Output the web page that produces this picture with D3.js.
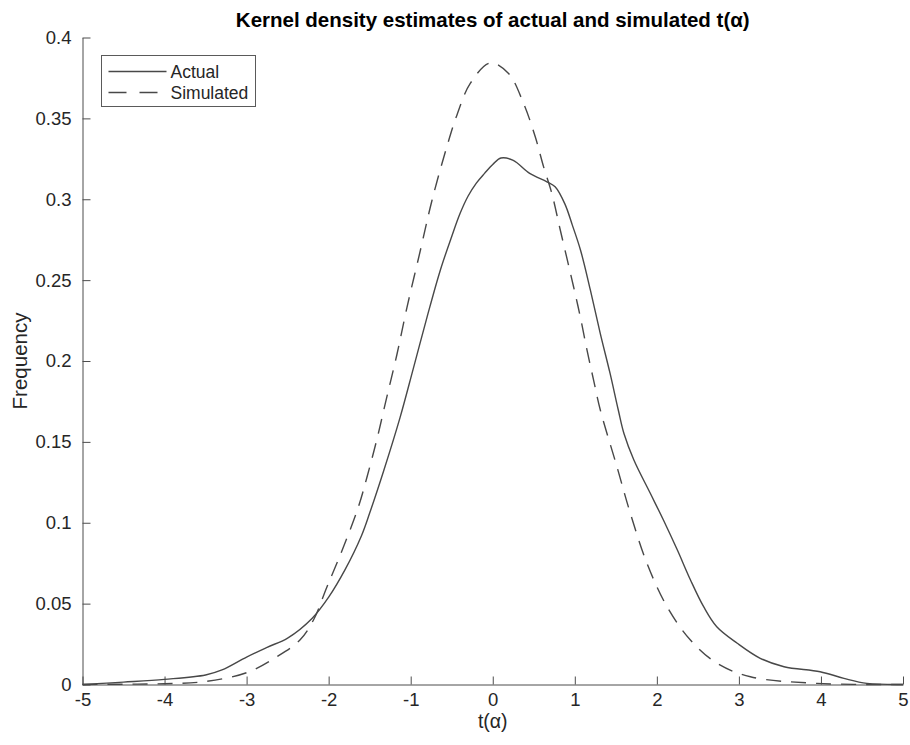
<!DOCTYPE html>
<html>
<head>
<meta charset="utf-8">
<script src="https://cdn.jsdelivr.net/npm/d3@7"></script>
<style>
  body { margin: 0; background: #fff; }
  text { font-family: "Liberation Sans", Arial, sans-serif; }
</style>
</head>
<body>
<div id="chart"></div>
<script>
// values
var actualT = [-5, -4.5, -4, -3.5, -3.3, -3, -2.75, -2.5, -2.2, -2, -1.8, -1.6, -1.5, -1.33, -1.13, -0.97,
  -0.8, -0.64, -0.5, -0.4, -0.3, -0.2, -0.1, 0, 0.1, 0.25, 0.45, 0.66, 0.76, 0.88, 0.97, 1.07, 1.19, 1.31, 1.43,
  1.53, 1.6, 1.72, 1.92, 2.08, 2.25, 2.41, 2.57, 2.73, 2.98, 3.26, 3.55, 3.99, 4.28, 4.56, 5];
var actualV = [0, 0.0015, 0.0032, 0.0059, 0.009, 0.017, 0.023, 0.0287, 0.041, 0.054, 0.071, 0.092, 0.106,
  0.132, 0.165, 0.195, 0.2273, 0.256, 0.277, 0.291, 0.302, 0.310, 0.316, 0.3215, 0.3255, 0.324, 0.316, 0.3108,
  0.3077, 0.297, 0.284, 0.2685, 0.2438, 0.2171, 0.1923, 0.1697, 0.155, 0.1388, 0.1182, 0.1017, 0.0831,
  0.0646, 0.0481, 0.0357, 0.0255, 0.0162, 0.011, 0.0079, 0.0038, 0.0007, 0];

var simT = [-5, -4.5, -4, -3.53, -3, -2.63, -2.35, -2.185, -2.02, -1.82, -1.636, -1.534, -1.41, -1.29,
  -1.168, -1.046, -0.884, -0.74, -0.56, -0.437, -0.274, -0.03, 0.193, 0.376, 0.518, 0.62, 0.72, 0.823,
  0.985, 1.067, 1.149, 1.229, 1.311, 1.514, 1.677, 1.88, 2.124, 2.409, 2.734, 3.14, 3.95, 5];
var simV = [0, 0.0002, 0.0005, 0.0017, 0.0073, 0.0172, 0.0275, 0.0399, 0.0604, 0.085, 0.11, 0.128,
  0.152, 0.178, 0.204, 0.233, 0.268, 0.2994, 0.3324, 0.352, 0.3716, 0.3843, 0.3777, 0.3592, 0.3386,
  0.32, 0.3036, 0.281, 0.2459, 0.2273, 0.2067, 0.1882, 0.1697, 0.1346, 0.1058, 0.0749, 0.0481, 0.0275,
  0.0131, 0.0048, 0.0007, 0];

var xTicks = [-5, -4, -3, -2, -1, 0, 1, 2, 3, 4, 5];
var yTicks = [0, 0.05, 0.1, 0.15, 0.2, 0.25, 0.3, 0.35, 0.4];
var seriesNames = ["Actual", "Simulated"];

var margin = {top: 37.5, right: 7, bottom: 60.5, left: 82.5},
  width = 910 - margin.left - margin.right,
  height = 745 - margin.top - margin.bottom;

var svg = d3.select("#chart")
  .append("svg")
    .attr("width", 910)
    .attr("height", 745);

var graph = svg.append("g")
  .attr("transform", "translate(" + margin.left + "," + margin.top + ")");

var x = d3.scaleLinear().domain([-5, 5]).range([0, width]);
var y = d3.scaleLinear().domain([0, 0.4]).range([height, 0]);

// axes, ticks pointing inward like matlab
var xAxis = graph.append("g")
  .attr("transform", "translate(0," + height + ")")
  .call(d3.axisBottom(x).tickValues(xTicks).tickSizeInner(-8).tickSizeOuter(0).tickPadding(8)
    .tickFormat(function (d) { return String(d); }));

var yAxis = graph.append("g")
  .call(d3.axisLeft(y).tickValues(yTicks).tickSizeInner(-8).tickSizeOuter(0).tickPadding(11)
    .tickFormat(function (d) { return String(+d.toFixed(2)); }));

[xAxis, yAxis].forEach(function (a) {
  a.selectAll("path, line").attr("stroke", "#4d4d4d").attr("stroke-width", 1);
  a.selectAll("text").attr("fill", "#262626").style("font-size", "18.5px")
    .style("font-family", "'Liberation Sans', Arial, sans-serif");
});

var line = d3.line()
  .x(function (d) { return x(d[0]); })
  .y(function (d) { return y(d[1]); })
  .curve(d3.curveCatmullRom.alpha(0.5));

var actualData = actualT.map(function (t, i) { return [t, actualV[i]]; });
var simData = simT.map(function (t, i) { return [t, simV[i]]; });

graph.append("path")
  .datum(actualData)
  .attr("fill", "none")
  .attr("stroke", "#484848")
  .attr("stroke-width", 1.4)
  .attr("d", line);

graph.append("path")
  .datum(simData)
  .attr("fill", "none")
  .attr("stroke", "#484848")
  .attr("stroke-width", 1.4)
  .attr("stroke-dasharray", "15,10")
  .attr("d", line);

// title and labels
svg.append("text")
  .attr("x", margin.left + width / 2)
  .attr("y", 27)
  .attr("text-anchor", "middle")
  .style("font-size", "20.5px")
  .style("font-weight", "bold")
  .attr("fill", "#000")
  .text("Kernel density estimates of actual and simulated t(\u03b1)");

svg.append("text")
  .attr("x", margin.left + width / 2)
  .attr("y", 728)
  .attr("text-anchor", "middle")
  .style("font-size", "19.5px")
  .attr("fill", "#262626")
  .text("t(\u03b1)");

svg.append("text")
  .attr("transform", "translate(27," + (margin.top + height / 2) + ") rotate(-90)")
  .attr("text-anchor", "middle")
  .style("font-size", "20.5px")
  .attr("fill", "#262626")
  .text("Frequency");

// legend
var legend = svg.append("g").attr("transform", "translate(101.5,55.5)");
legend.append("rect")
  .attr("width", 154)
  .attr("height", 51)
  .attr("fill", "#fff")
  .attr("stroke", "#5a5a5a")
  .attr("stroke-width", 1);

seriesNames.forEach(function (name, i) {
  var ly = 16 + i * 21;
  legend.append("line")
    .attr("x1", 7).attr("x2", 65)
    .attr("y1", ly).attr("y2", ly)
    .attr("stroke", "#484848")
    .attr("stroke-width", 1.4)
    .attr("stroke-dasharray", i === 1 ? "18,13" : null);
  legend.append("text")
    .attr("x", 69)
    .attr("y", ly + 6)
    .style("font-size", "17.5px")
    .attr("fill", "#262626")
    .text(name);
});
</script>
</body>
</html>
